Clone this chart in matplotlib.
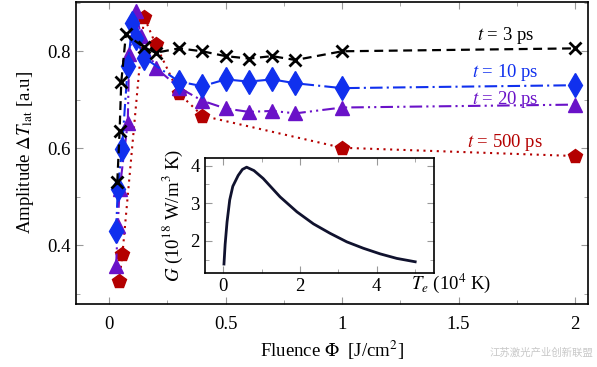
import matplotlib
matplotlib.use("Agg")
import matplotlib.pyplot as plt
from matplotlib.ticker import MultipleLocator

plt.rcParams['font.family'] = ['Liberation Serif', 'DejaVu Serif']
plt.rcParams['mathtext.fontset'] = 'stix'

# ---- data ----
x_3 = [0.035, 0.045, 0.052, 0.072, 0.15, 0.2, 0.3, 0.4, 0.5, 0.6, 0.7, 0.8, 1.0, 2.0]
y_3 = [0.53, 0.636, 0.736, 0.835, 0.808, 0.797, 0.806, 0.80, 0.79, 0.785, 0.79, 0.782, 0.80, 0.806]

x_10 = [0.03, 0.037, 0.055, 0.08, 0.1, 0.115, 0.15, 0.3, 0.4, 0.5, 0.6, 0.7, 0.8, 1.0, 2.0]
y_10 = [0.43, 0.515, 0.598, 0.77, 0.859, 0.828, 0.787, 0.7375, 0.728, 0.742, 0.7375, 0.742, 0.734, 0.724, 0.73]

x_20 = [0.03, 0.037, 0.045, 0.08, 0.086, 0.115, 0.136, 0.2, 0.3, 0.4, 0.5, 0.6, 0.7, 0.8, 1.0, 2.0]
y_20 = [0.357, 0.44, 0.515, 0.653, 0.794, 0.883, 0.832, 0.766, 0.725, 0.698, 0.682, 0.675, 0.677, 0.672, 0.684, 0.69]

x_500 = [0.043, 0.057, 0.15, 0.2, 0.3, 0.4, 1.0, 2.0]
y_500 = [0.326, 0.381, 0.871, 0.814, 0.713, 0.667, 0.601, 0.584]

Te = [0.02, 0.05, 0.1, 0.17, 0.25, 0.39, 0.5, 0.61, 0.8, 1.04, 1.48, 1.92, 2.35, 2.78, 3.22, 3.65, 4.09, 4.52, 5.0]
G = [1.38, 1.9, 2.5, 3.09, 3.45, 3.74, 3.9, 3.96, 3.87, 3.66, 3.17, 2.77, 2.45, 2.2, 1.97, 1.80, 1.65, 1.53, 1.44]

labels = ["$t$ = 3 ps", "$t$ = 10 ps", "$t$ = 20 ps", "$t$ = 500 ps"]
label_pos = [(1.70, 0.832), (1.70, 0.757), (1.70, 0.701), (1.70, 0.612)]

c_black = "#000000"
c_blue = "#1030ee"
c_purple = "#6a12c8"
c_red = "#b40000"

fig = plt.figure(figsize=(5.97, 3.67), dpi=100)
ax = fig.add_axes([0.127, 0.172, 0.858, 0.823])

ax.plot(x_500, y_500, ls=(0, (1, 2.2)), color=c_red, lw=1.5, marker='p', ms=10, zorder=2)
ax.plot(x_20, y_20, ls=(0, (6, 2, 1, 2, 1, 2)), color=c_purple, lw=1.5, marker='^', ms=10, zorder=3)
ax.plot(x_10, y_10, ls=(0, (6, 2, 1, 2)), color=c_blue, lw=1.5, marker='d', ms=12, zorder=4)
ax.plot(x_3, y_3, ls=(0, (4, 2.5)), color=c_black, lw=1.6, marker='x', ms=8, mew=2, zorder=5)

for (tx, ty), lab, c in zip(label_pos, labels, [c_black, c_blue, c_purple, c_red]):
    ax.text(tx, ty, lab, color=c, fontsize=13.5, ha='center', va='center', zorder=6)

ax.set_xlim(-0.143, 2.056)
ax.set_ylim(0.279, 0.902)
ax.xaxis.set_minor_locator(MultipleLocator(0.25))
ax.yaxis.set_minor_locator(MultipleLocator(0.1))
ax.set_xticks([0, 0.5, 1, 1.5, 2])
ax.set_xticklabels(["0", "0.5", "1", "1.5", "2"])
ax.set_yticks([0.4, 0.6, 0.8])
ax.set_yticklabels(["0.4", "0.6", "0.8"])
ax.tick_params(which='both', direction='in', top=True, right=True, color='#999999', labelsize=13.5)
ax.tick_params(which='major', length=5)
ax.tick_params(which='minor', length=3)
ax.tick_params(axis='x', pad=9)
for s in ax.spines.values():
    s.set_linewidth(1.2)
ax.set_xlabel(r"Fluence $\Phi$  [J/cm$^2$]", fontsize=13.5, labelpad=4)
ax.set_ylabel(r"Amplitude $\Delta T_{\rm lat}$ [a.u]", fontsize=13.5, labelpad=8)

# ---- inset ----
ins = fig.add_axes([0.343, 0.255, 0.384, 0.314], zorder=10)
ins.plot(Te, G, color="#10122e", lw=2)
ins.set_xlim(-0.48, 5.49)
ins.set_ylim(1.13, 4.2)
ins.set_xticks([0, 2, 4])
ins.set_yticks([2, 3, 4])
ins.xaxis.set_minor_locator(MultipleLocator(1))
ins.yaxis.set_minor_locator(MultipleLocator(0.5))
ins.tick_params(which='both', direction='in', top=True, right=True, color='#999999', labelsize=13.5)
ins.tick_params(which='major', length=5)
ins.tick_params(which='minor', length=3)
for s in ins.spines.values():
    s.set_linewidth(1.2)
ins.set_ylabel(r"$G$ (10$^{18}$ W/m$^3$ K)", fontsize=13.5, labelpad=4)
ins.text(0.90, -0.085, r"$T_e$ (10$^4$ K)", transform=ins.transAxes, fontsize=13.5,
         ha='left', va='center')

fig.text(0.993, 0.025, "江苏激光产业创新联盟", fontsize=7.5, color='#c8c8c8',
         ha='right', va='bottom', family=['Noto Sans CJK SC', 'DejaVu Sans'])

fig.savefig("out.png", dpi=100)
